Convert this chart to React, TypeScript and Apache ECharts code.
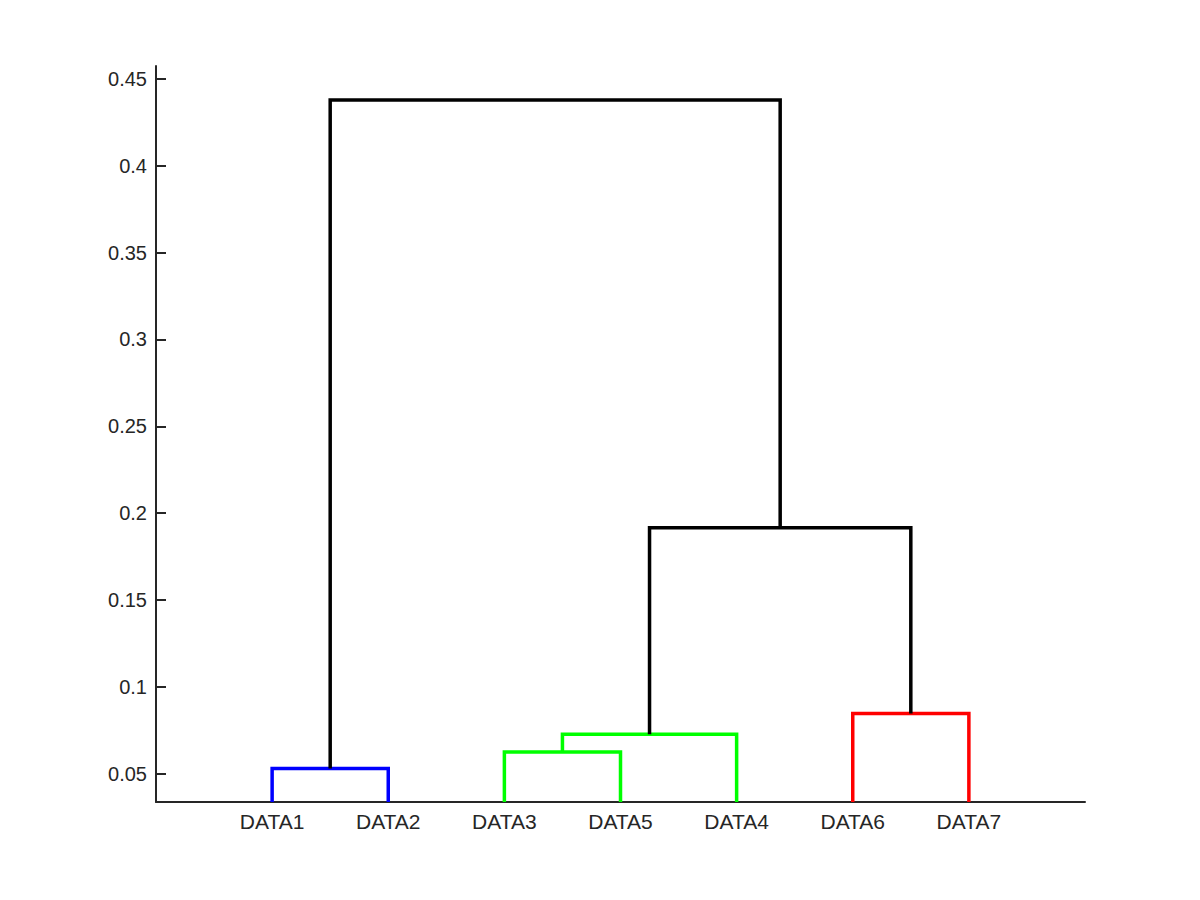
import React, { useEffect, useRef } from "react";
import * as echarts from "echarts";

const leafLabels = ["DATA1", "DATA2", "DATA3", "DATA5", "DATA4", "DATA6", "DATA7"];
// merges: [childA, childB]; leaves are 0..6 in display order, clusters start at 7
const mergeChildren: [number, number][] = [
  [0, 1],
  [2, 3],
  [8, 4],
  [5, 6],
  [9, 10],
  [7, 11],
];
const mergeHeights = [0.0529, 0.0624, 0.0726, 0.0846, 0.1915, 0.4379];
const mergeColors = ["#0000ff", "#00ff00", "#00ff00", "#ff0000", "#000000", "#000000"];
const yTicks = [0.05, 0.1, 0.15, 0.2, 0.25, 0.3, 0.35, 0.4, 0.45];
const yMin = 0.0336;
const yMax = 0.4575;
const xMin = 0;
const xMax = 8;

function buildSeries() {
  const nodeX: number[] = leafLabels.map((_, i) => i + 1);
  const nodeH: number[] = leafLabels.map(() => yMin);
  const series: any[] = [];
  mergeChildren.forEach(([a, b], k) => {
    const h = mergeHeights[k];
    series.push({
      type: "line",
      data: [
        [nodeX[a], nodeH[a]],
        [nodeX[a], h],
        [nodeX[b], h],
        [nodeX[b], nodeH[b]],
      ],
      symbol: "none",
      silent: true,
      lineStyle: { color: mergeColors[k], width: 3.5, join: "miter", cap: "butt" },
      z: 2,
    });
    nodeX.push((nodeX[a] + nodeX[b]) / 2);
    nodeH.push(h);
  });
  return series;
}

export default function App() {
  const ref = useRef<HTMLDivElement>(null);
  useEffect(() => {
    if (!ref.current) return;
    const chart = echarts.init(ref.current, null, { renderer: "svg" });
    const axisColor = "#262626";
    chart.setOption({
      animation: false,
      backgroundColor: "#ffffff",
      grid: { left: 156, right: 115, top: 66, bottom: 98 },
      xAxis: {
        type: "value",
        min: xMin,
        max: xMax,
        splitLine: { show: false },
        axisTick: { show: false },
        axisLine: { lineStyle: { color: axisColor, width: 2 } },
        axisLabel: {
          customValues: leafLabels.map((_, i) => i + 1),
          formatter: (v: number) => leafLabels[Math.round(v) - 1] ?? "",
          color: axisColor,
          fontFamily: "Liberation Sans, Arial, sans-serif",
          fontSize: 21,
          margin: 9,
        },
      },
      yAxis: {
        type: "value",
        min: yMin,
        max: yMax,
        splitLine: { show: false },
        axisLine: { show: true, lineStyle: { color: axisColor, width: 2 } },
        axisTick: {
          show: true,
          inside: true,
          length: 10,
          customValues: yTicks,
          lineStyle: { color: axisColor, width: 2 },
        },
        axisLabel: {
          customValues: yTicks,
          formatter: (v: number) => String(parseFloat(v.toFixed(2))),
          color: axisColor,
          fontFamily: "Liberation Sans, Arial, sans-serif",
          fontSize: 20,
          margin: 9,
        },
      },
      series: buildSeries(),
    });
    return () => chart.dispose();
  }, []);
  return <div ref={ref} style={{ width: 1200, height: 900, position: "absolute", left: 0, top: 0 }} />;
}
